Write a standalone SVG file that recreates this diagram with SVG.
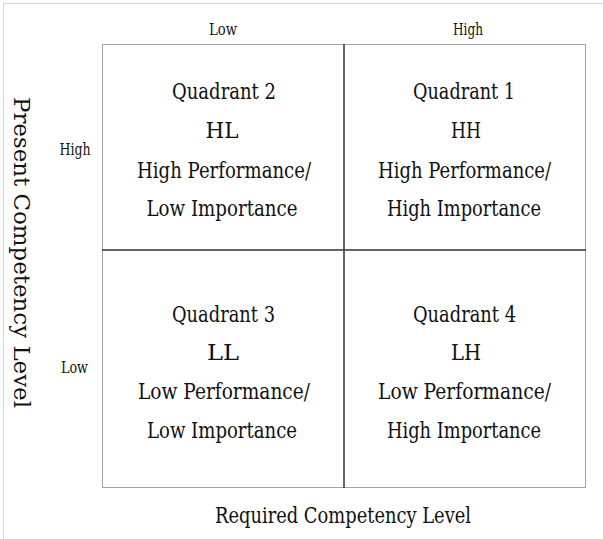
<svg xmlns="http://www.w3.org/2000/svg" width="603" height="539" viewBox="0 0 603 539">
<style>
.big{font-family:"DejaVu Serif","Liberation Serif",serif;font-size:23px;fill:#111;text-anchor:middle}
.small{font-family:"DejaVu Serif","Liberation Serif",serif;font-size:16px;fill:#111;text-anchor:middle}
.frame{fill:none;stroke:#444;stroke-width:1;stroke-dasharray:1 1}
.div{stroke:#333;stroke-width:1.5;fill:none}
</style>
<rect x="3.5" y="3.5" width="800" height="800" fill="#fff" stroke="#d4d4d4" stroke-width="1"/>
<g id="connectors">
<rect class="frame" x="102.5" y="44.5" width="483" height="443"/>
<line class="div" x1="344" y1="44" x2="344" y2="488"/>
<line class="div" x1="102" y1="250" x2="586" y2="250"/>
</g>
<g id="axis-labels">
<text class="small" x="223" y="35" textLength="28" lengthAdjust="spacingAndGlyphs">Low</text>
<text class="small" x="468" y="35" textLength="30" lengthAdjust="spacingAndGlyphs">High</text>
<text class="small" x="75" y="155" textLength="31" lengthAdjust="spacingAndGlyphs">High</text>
<text class="small" x="74.5" y="373" textLength="27" lengthAdjust="spacingAndGlyphs">Low</text>
<text class="big" x="343" y="523" textLength="256" lengthAdjust="spacingAndGlyphs">Required Competency Level</text>
<text class="big" transform="translate(13.5 252.5) rotate(90)" x="0" y="0" textLength="311" lengthAdjust="spacingAndGlyphs">Present Competency Level</text>
</g>
<g id="quadrant2">
<text class="big" x="224" y="99" textLength="104" lengthAdjust="spacingAndGlyphs">Quadrant 2</text>
<text class="big" x="222" y="138" textLength="33" lengthAdjust="spacingAndGlyphs">HL</text>
<text class="big" x="224" y="178" textLength="174" lengthAdjust="spacingAndGlyphs">High Performance/</text>
<text class="big" x="222" y="216" textLength="151" lengthAdjust="spacingAndGlyphs">Low Importance</text>
</g>
<g id="quadrant1">
<text class="big" x="464" y="99" textLength="102" lengthAdjust="spacingAndGlyphs">Quadrant 1</text>
<text class="big" x="466" y="138" textLength="30" lengthAdjust="spacingAndGlyphs">HH</text>
<text class="big" x="464.5" y="178" textLength="173" lengthAdjust="spacingAndGlyphs">High Performance/</text>
<text class="big" x="464" y="216" textLength="154" lengthAdjust="spacingAndGlyphs">High Importance</text>
</g>
<g id="quadrant3">
<text class="big" x="223.5" y="322" textLength="103" lengthAdjust="spacingAndGlyphs">Quadrant 3</text>
<text class="big" x="223" y="360" textLength="32" lengthAdjust="spacingAndGlyphs">LL</text>
<text class="big" x="224" y="399" textLength="172" lengthAdjust="spacingAndGlyphs">Low Performance/</text>
<text class="big" x="222" y="438" textLength="150" lengthAdjust="spacingAndGlyphs">Low Importance</text>
</g>
<g id="quadrant4">
<text class="big" x="464.5" y="322" textLength="103" lengthAdjust="spacingAndGlyphs">Quadrant 4</text>
<text class="big" x="466" y="360" textLength="30" lengthAdjust="spacingAndGlyphs">LH</text>
<text class="big" x="464.5" y="399" textLength="173" lengthAdjust="spacingAndGlyphs">Low Performance/</text>
<text class="big" x="464" y="438" textLength="154" lengthAdjust="spacingAndGlyphs">High Importance</text>
</g>
</svg>
